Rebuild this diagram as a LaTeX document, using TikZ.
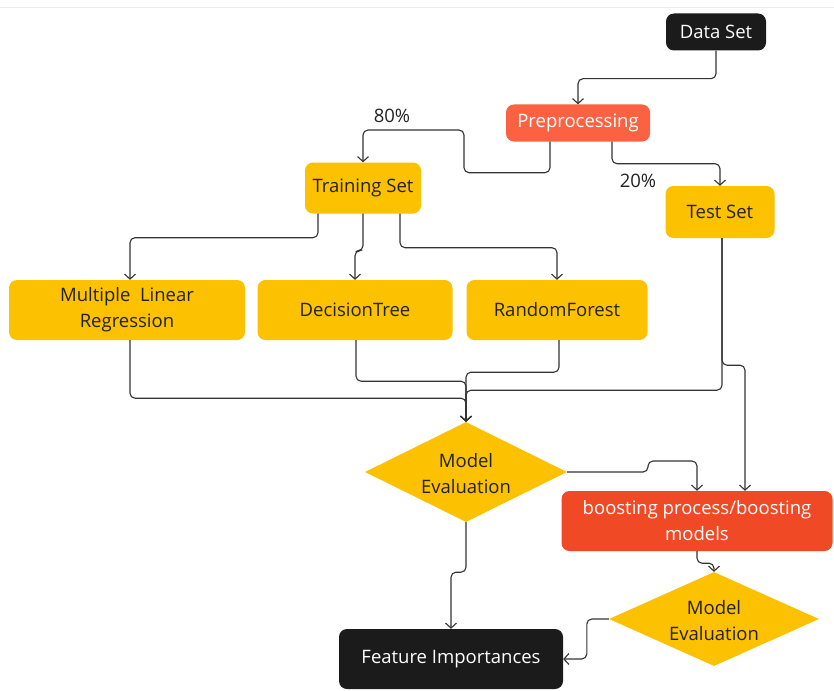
\documentclass[tikz,border=0pt]{standalone}
\usepackage{fontspec}
\setmainfont{Open Sans}
\usetikzlibrary{shapes.geometric,arrows.meta}
\definecolor{ybox}{HTML}{FCC100}
\definecolor{prec}{HTML}{FA6241}
\definecolor{boostc}{HTML}{EF4A25}
\definecolor{darkbox}{HTML}{1B1B1B}
\definecolor{linec}{HTML}{333333}
\definecolor{txtc}{HTML}{222222}
\begin{document}
\begin{tikzpicture}[x=1pt,y=-1pt,
  every node/.style={font=\fontsize{18.5}{26}\selectfont},
  box/.style={rectangle,rounded corners=8pt,inner sep=0pt,align=center},
  ybx/.style={box,fill=ybox,text=txtc},
  dbx/.style={box,fill=darkbox,text=white},
  dia/.style={diamond,fill=ybox,inner sep=0pt},
  arr/.style={draw=linec,line width=1.1pt,rounded corners=5pt,-{Straight Barb[length=5pt,width=11pt,line width=1.1pt]}},
  lbl/.style={text=txtc}
]
\useasboundingbox (0,0) rectangle (834,690);
\fill[white] (0,0) rectangle (834,690);
\draw[color=black!8,line width=0.8pt] (0,7) -- (834,7);

\node[dbx,minimum width=100pt,minimum height=37pt] (data) at (716,32) {Data Set};
\node[box,fill=prec,text=white,minimum width=144pt,minimum height=37pt] (pre) at (578,123) {Preprocessing};
\node[ybx,minimum width=116pt,minimum height=51pt] (train) at (363,188) {Training Set};
\node[ybx,minimum width=109pt,minimum height=52pt] (test) at (720,212) {Test Set};
\node[ybx,minimum width=236pt,minimum height=60pt] (mlr) at (127,310) {Multiple\ \ Linear\\Regression};
\node[ybx,minimum width=195pt,minimum height=60pt] (dt) at (355,310) {DecisionTree};
\node[ybx,minimum width=181pt,minimum height=60pt] (rf) at (557,310) {RandomForest};
\node[dia,minimum width=202pt,minimum height=100pt] (me1) at (466,472) {};
\node[align=center,text=txtc] (me1t) at (466,474) {Model\\Evaluation};
\node[box,fill=boostc,text=white,minimum width=271pt,minimum height=60pt] (boost) at (697,521) {boosting process/boosting\\models};
\node[dia,minimum width=210pt,minimum height=94pt] (me2) at (714,619) {};
\node[align=center,text=txtc] (me2t) at (714,621) {Model\\Evaluation};
\node[dbx,minimum width=224pt,minimum height=60pt] (fi) at (451,659) {Feature Importances};

\node[lbl] (p80) at (392,116) {80\%};
\node[lbl] (p20) at (638,181) {20\%};

% connectors
\draw[arr] (data.south) -- ++(0,28) -| (pre.north);
\draw[arr] ([xshift=-28pt]pre.south) -- ++(0,31) -| (464,130) -| (train.north);
\draw[arr] ([xshift=34pt]pre.south) -- ++(0,22) -| (test.north);
\draw[arr] ([xshift=-45pt]train.south) -- ++(0,24) -| ([xshift=3pt]mlr.north);
\draw[arr] (train.south) -- ++(0,37) -| (dt.north);
\draw[arr] ([xshift=37pt]train.south) -- ++(0,34) -| (rf.north);

\draw[arr] ([xshift=3pt]mlr.south) -- ++(0,58) -| (me1.north);
\draw[arr] ([xshift=1pt]dt.south) -- ++(0,41) -| (me1.north);
\draw[arr] ([xshift=2pt]rf.south) -- ++(0,32) -| (me1.north);
\draw[arr] ([xshift=2pt]test.south) -- ++(0,152) -| (me1.north);
\draw[arr] ([xshift=2pt]test.south) -- ++(0,127) -| ([xshift=48pt]boost.north);

\draw[arr] (me1.east) -| (648,461) -| (boost.north);
\draw[arr] (me1.south) -- ++(0,50) -| (fi.north);
\draw[arr] (boost.south) -- ++(0,12) -| (me2.north);
\draw[arr] (me2.west) -- ++(-22,0) |- (fi.east);
\end{tikzpicture}
\end{document}
